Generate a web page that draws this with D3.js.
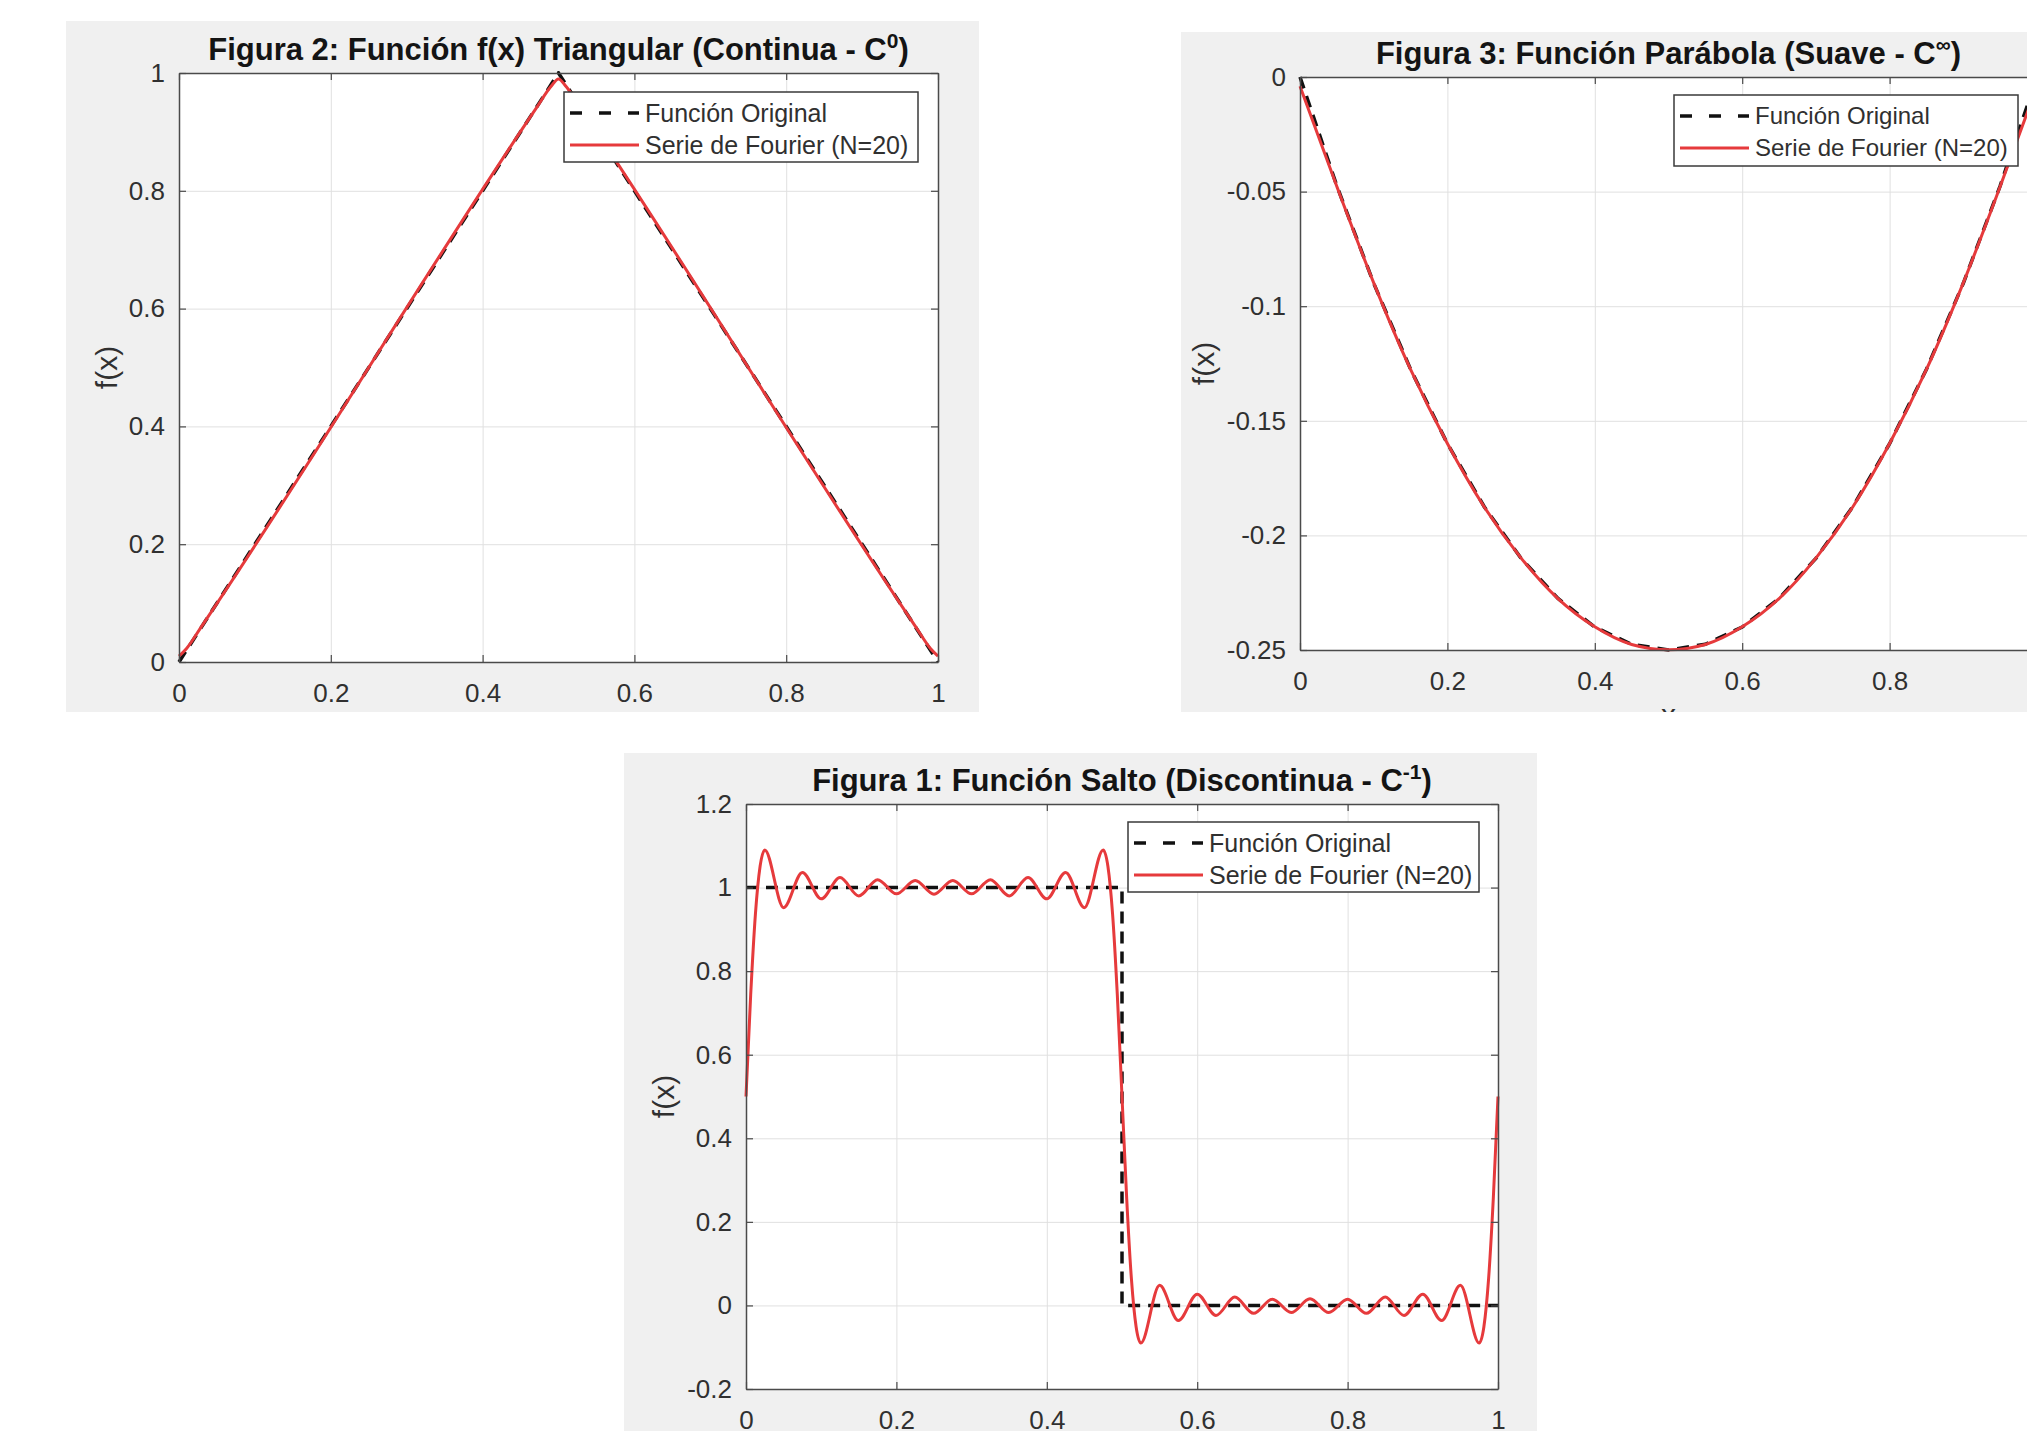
<!DOCTYPE html>
<html>
<head>
<meta charset="utf-8">
<script src="https://cdn.jsdelivr.net/npm/d3@7"></script>
<style>
body{margin:0;background:#fff;}
svg{display:block;font-family:"Liberation Sans",Arial,Helvetica,sans-serif;}
</style>
</head>
<body>
<svg id="canvas" width="2027" height="1431"></svg>
<script>
// tick values
let ticksX = [0, 0.2, 0.4, 0.6, 0.8, 1]
let ticksTri = [0, 0.2, 0.4, 0.6, 0.8, 1]
let ticksPar = [-0.25, -0.2, -0.15, -0.1, -0.05, 0]
let ticksStep = [-0.2, 0, 0.2, 0.4, 0.6, 0.8, 1, 1.2]

let legendNames = ['Función Original', 'Serie de Fourier (N=20)']

// Figura 2: triangular
let triOrigX = [0, 0.5, 1]
let triOrigY = [0, 1, 0]
let triFourX = [0, 0.01, 0.03, 0.47, 0.49, 0.5, 0.51, 0.53, 0.97, 0.99, 1]
let triFourY = [0.01, 0.023, 0.061, 0.939, 0.977, 0.99, 0.977, 0.939, 0.061, 0.023, 0.01]

// Figura 3: parabola
let parX = [0, 0.05, 0.1, 0.15, 0.2, 0.25, 0.3, 0.35, 0.4, 0.45, 0.5,
            0.55, 0.6, 0.65, 0.7, 0.75, 0.8, 0.85, 0.9, 0.95, 1]
let parOrigY = [0, -0.0475, -0.09, -0.1275, -0.16, -0.1875, -0.21, -0.2275, -0.24, -0.2475, -0.25,
                -0.2475, -0.24, -0.2275, -0.21, -0.1875, -0.16, -0.1275, -0.09, -0.0475, 0]
let parFourY = [-0.004, -0.0478, -0.0898, -0.1276, -0.1599, -0.1876, -0.2099, -0.2276, -0.2399, -0.2476, -0.2499,
                -0.2476, -0.2399, -0.2276, -0.2099, -0.1876, -0.1599, -0.1276, -0.0898, -0.0478, -0.004]

// Figura 1: salto
let stepOrigX = [0, 0.5, 0.5, 1]
let stepOrigY = [1, 1, 0, 0]
let stepFourX = [0, 0.00625, 0.0125, 0.01875, 0.025, 0.05, 0.075, 0.1, 0.125, 0.15, 0.175, 0.2,
                 0.225, 0.25, 0.275, 0.3, 0.325, 0.35, 0.375, 0.4, 0.425, 0.45, 0.475,
                 0.48125, 0.4875, 0.49375, 0.5, 0.50625, 0.5125, 0.51875,
                 0.525, 0.55, 0.575, 0.6, 0.625, 0.65, 0.675, 0.7, 0.725, 0.75, 0.775, 0.8,
                 0.825, 0.85, 0.875, 0.9, 0.925, 0.95, 0.975, 0.98125, 0.9875, 0.99375, 1]
let stepFourY = [0.5, 0.744, 0.936, 1.051, 1.09, 0.952, 1.036, 0.973, 1.024, 0.98, 1.019, 0.985,
                 1.017, 0.984, 1.017, 0.985, 1.019, 0.98, 1.024, 0.973, 1.036, 0.952, 1.09,
                 1.051, 0.936, 0.744, 0.5, 0.256, 0.064, -0.051,
                 -0.09, 0.048, -0.036, 0.027, -0.024, 0.02, -0.019, 0.015, -0.017, 0.016, -0.017, 0.015,
                 -0.019, 0.02, -0.024, 0.027, -0.036, 0.048, -0.09, -0.051, 0.064, 0.256, 0.5]

let zip = (xs, ys) => xs.map((x, i) => [x, ys[i]])

let charts = [
  {
    id: 'tri', title: 'Figura 2: Función f(x) Triangular (Continua - C', sup: '0',
    panel: {x: 66, y: 21, w: 913, h: 691}, plot: {x: 179, y: 73, w: 759, h: 589},
    yDomain: [0, 1], yTicks: ticksTri,
    orig: zip(triOrigX, triOrigY), four: zip(triFourX, triFourY),
    legend: {x: 564, y: 92, w: 354, h: 70, font: 25}, ylabelX: 106
  },
  {
    id: 'par', title: 'Figura 3: Función Parábola (Suave - C', sup: '∞',
    panel: {x: 1181, y: 32, w: 900, h: 680}, plot: {x: 1300, y: 77, w: 737, h: 573},
    yDomain: [-0.25, 0], yTicks: ticksPar,
    orig: zip(parX, parOrigY), four: zip(parX, parFourY),
    legend: {x: 1674, y: 95, w: 344, h: 71, font: 24}, ylabelX: 1203
  },
  {
    id: 'step', title: 'Figura 1: Función Salto (Discontinua - C', sup: '-1',
    panel: {x: 624, y: 753, w: 913, h: 700}, plot: {x: 746, y: 804, w: 752, h: 585},
    yDomain: [-0.2, 1.2], yTicks: ticksStep,
    orig: zip(stepOrigX, stepOrigY), four: zip(stepFourX, stepFourY),
    legend: {x: 1128, y: 822, w: 351, h: 70, font: 25}, ylabelX: 663
  }
]

let svg = d3.select('#canvas')
let fmt = (d) => String(+d.toFixed(2))
let axisColor = '#4a4a4a'
let textColor = '#303030'
let red = '#e63a3c'

let drawChart = (c) => {
  let p = c.plot
  let defs = svg.append('defs')
  defs.append('clipPath').attr('id', 'panel-' + c.id)
      .append('rect').attr('x', c.panel.x).attr('y', c.panel.y)
      .attr('width', c.panel.w).attr('height', c.panel.h)
  defs.append('clipPath').attr('id', 'plot-' + c.id)
      .append('rect').attr('x', p.x - 2).attr('y', p.y - 2)
      .attr('width', p.w + 4).attr('height', p.h + 4)

  let g = svg.append('g').attr('clip-path', 'url(#panel-' + c.id + ')')

  g.append('rect')
   .attr('x', c.panel.x).attr('y', c.panel.y)
   .attr('width', c.panel.w).attr('height', c.panel.h)
   .attr('fill', '#f0f0f0')

  g.append('rect')
   .attr('x', p.x).attr('y', p.y).attr('width', p.w).attr('height', p.h)
   .attr('fill', '#fff')

  let x = d3.scaleLinear().domain([0, 1]).range([p.x, p.x + p.w])
  let y = d3.scaleLinear().domain(c.yDomain).range([p.y + p.h, p.y])

  // only the x ticks that fall inside the picture
  let xt = ticksX.filter(v => x(v) < 2020)

  // grid
  g.append('g').attr('transform', 'translate(0,' + (p.y + p.h) + ')')
   .call(d3.axisBottom(x).tickValues(ticksX).tickSize(-p.h).tickFormat(''))
   .call(a => a.select('.domain').remove())
   .selectAll('line').attr('stroke', '#e0e0e0').attr('stroke-width', 1)
  g.append('g').attr('transform', 'translate(' + p.x + ',0)')
   .call(d3.axisLeft(y).tickValues(c.yTicks).tickSize(-p.w).tickFormat(''))
   .call(a => a.select('.domain').remove())
   .selectAll('line').attr('stroke', '#e0e0e0').attr('stroke-width', 1)

  // curves
  let line = d3.line().x(d => x(d[0])).y(d => y(d[1]))
  let lines = g.append('g').attr('clip-path', 'url(#plot-' + c.id + ')')
  lines.append('path').datum(c.orig)
       .attr('d', line.curve(d3.curveLinear))
       .attr('fill', 'none').attr('stroke', '#111')
       .attr('stroke-width', 3.5).attr('stroke-dasharray', '12,8')
  lines.append('path').datum(c.four)
       .attr('d', line.curve(d3.curveMonotoneX))
       .attr('fill', 'none').attr('stroke', red).attr('stroke-width', 3)

  // box axes with inward ticks
  let styleAxis = (a) => {
    a.select('.domain').attr('stroke', axisColor).attr('stroke-width', 1.5)
    a.selectAll('.tick line').attr('stroke', axisColor).attr('stroke-width', 1.2)
    a.selectAll('text').attr('fill', textColor).attr('font-size', 26)
      .attr('font-family', '"Liberation Sans",Arial,Helvetica,sans-serif')
  }
  g.append('g').attr('transform', 'translate(0,' + (p.y + p.h) + ')')
   .call(d3.axisBottom(x).tickValues(xt).tickSizeInner(-7).tickSizeOuter(0)
         .tickPadding(22).tickFormat(fmt))
   .call(styleAxis)
  g.append('g').attr('transform', 'translate(0,' + p.y + ')')
   .call(d3.axisTop(x).tickValues(ticksX).tickSizeInner(-7).tickSizeOuter(0).tickFormat(''))
   .call(styleAxis)
  g.append('g').attr('transform', 'translate(' + p.x + ',0)')
   .call(d3.axisLeft(y).tickValues(c.yTicks).tickSizeInner(-7).tickSizeOuter(0)
         .tickPadding(14).tickFormat(fmt))
   .call(styleAxis)
  g.append('g').attr('transform', 'translate(' + (p.x + p.w) + ',0)')
   .call(d3.axisRight(y).tickValues(c.yTicks).tickSizeInner(-7).tickSizeOuter(0).tickFormat(''))
   .call(styleAxis)

  // title
  let t = g.append('text')
           .attr('x', p.x + p.w / 2).attr('y', p.y - 13)
           .attr('text-anchor', 'middle').attr('font-size', 31)
           .attr('font-weight', 'bold').attr('fill', '#141414')
  t.append('tspan').text(c.title)
  t.append('tspan').text(c.sup).attr('font-size', 21).attr('dy', -12)
  t.append('tspan').text(')').attr('dy', 12)

  // axis labels
  g.append('text')
   .attr('transform', 'translate(' + c.ylabelX + ',' + (p.y + p.h / 2) + ') rotate(-90)')
   .attr('text-anchor', 'middle').attr('dy', '0.35em')
   .attr('font-size', 30).attr('fill', textColor).text('f(x)')
  g.append('text')
   .attr('x', p.x + p.w / 2).attr('y', p.y + p.h + 75)
   .attr('text-anchor', 'middle').attr('font-size', 30).attr('fill', textColor).text('x')

  // legend
  let L = c.legend
  let lg = g.append('g')
  lg.append('rect').attr('x', L.x).attr('y', L.y).attr('width', L.w).attr('height', L.h)
    .attr('fill', '#fff').attr('stroke', '#3a3a3a').attr('stroke-width', 1.5)
  legendNames.forEach((name, i) => {
    let ly = L.y + 21 + i * 32
    lg.append('line').attr('x1', L.x + 6).attr('x2', L.x + 75)
      .attr('y1', ly).attr('y2', ly)
      .attr('stroke', i === 0 ? '#111' : red)
      .attr('stroke-width', i === 0 ? 3.5 : 3)
      .attr('stroke-dasharray', i === 0 ? '12,17' : null)
    lg.append('text').attr('x', L.x + 81).attr('y', ly).attr('dy', '0.35em')
      .attr('font-size', L.font).attr('fill', textColor).text(name)
  })
}

charts.forEach(drawChart)
</script>
</body>
</html>
